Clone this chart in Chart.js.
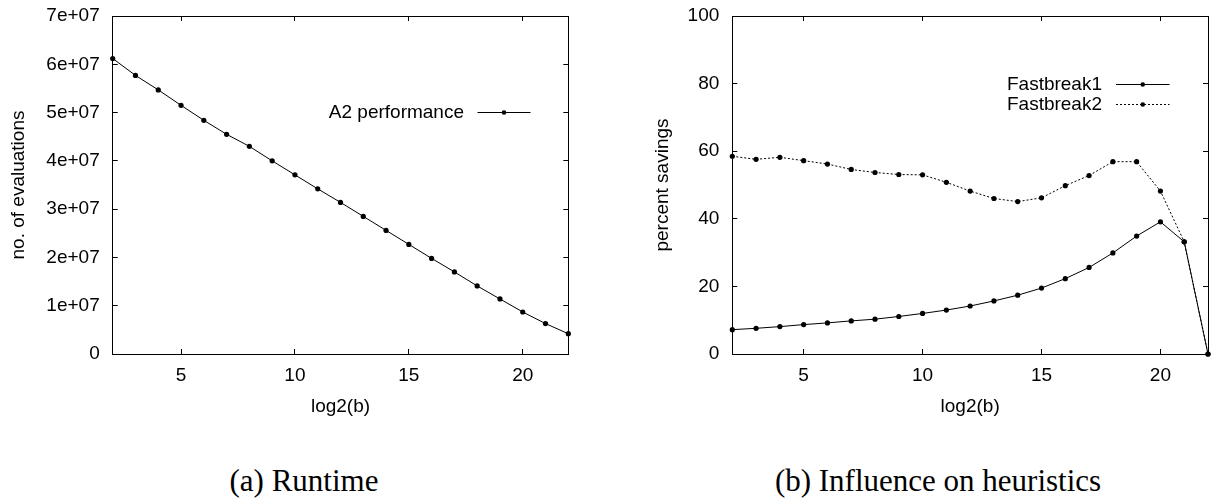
<!DOCTYPE html>
<html>
<head>
<meta charset="utf-8">
<script src="https://cdn.jsdelivr.net/npm/chart.js@4.4.1/dist/chart.umd.min.js"></script>
<style>
body { margin: 0; background: #fff; width: 1212px; height: 504px; position: relative; overflow: hidden; }
canvas { position: absolute; top: 0; }
#runtimeChart { left: 0; }
#heuristicsChart { left: 620px; }
.caption { position: absolute; top: 463px; width: 400px; font-family: "Liberation Serif", "Times New Roman", serif; font-size: 31px; line-height: 36px; text-align: center; color: #000; }
</style>
</head>
<body>
<canvas id="runtimeChart" width="580" height="420"></canvas>
<canvas id="heuristicsChart" width="592" height="420"></canvas>
<div class="caption" style="left:104px">(a) Runtime</div>
<div class="caption" style="left:738px">(b) Influence on heuristics</div>
<script>
// log2(b) on the x axis
const blockSizes = [2, 3, 4, 5, 6, 7, 8, 9, 10, 11, 12, 13, 14, 15, 16, 17, 18, 19, 20, 21, 22];
const xTicks = [5, 10, 15, 20];

// (a) runtime
const evaluations = [6.12e7, 5.77e7, 5.47e7, 5.15e7, 4.84e7, 4.55e7, 4.30e7, 4.00e7, 3.71e7, 3.42e7,
    3.14e7, 2.85e7, 2.56e7, 2.27e7, 1.98e7, 1.70e7, 1.41e7, 1.14e7, 0.87e7, 0.63e7, 0.42e7];
const evalTicks = [0, 1e7, 2e7, 3e7, 4e7, 5e7, 6e7, 7e7];
const evalTickLabels = ['0', '1e+07', '2e+07', '3e+07', '4e+07', '5e+07', '6e+07', '7e+07'];

// (b) heuristics
const fastbreak1 = [7.2, 7.6, 8.1, 8.7, 9.2, 9.8, 10.3, 11.1, 12.0, 13.0, 14.2, 15.7, 17.4, 19.5,
    22.3, 25.6, 29.9, 34.9, 39.1, 33.2, 0];
const fastbreak2 = [58.5, 57.6, 58.2, 57.2, 56.2, 54.6, 53.7, 53.1, 53.0, 50.8, 48.2, 46.0, 45.1, 46.2,
    49.8, 52.8, 56.9, 56.9, 48.2, 33.2, 0];
const savingTicks = [0, 20, 40, 60, 80, 100];

const fontFamily = '"Liberation Sans", Arial, Helvetica, sans-serif';
Chart.defaults.font.family = fontFamily;
Chart.defaults.font.size = 19;
Chart.defaults.color = '#000';

const toPoints = values => values.map((v, i) => ({ x: blockSizes[i], y: v }));

const tickMarks = { drawOnChartArea: false, drawTicks: true, tickLength: -5, color: '#000', lineWidth: 1 };
const frameBorder = { display: true, color: '#000', width: 1 };

// gnuplot style key: text right aligned, sample line with a point
const keyPlugin = {
    id: 'key',
    afterDatasetsDraw(chart, args, opts) {
        const ctx = chart.ctx;
        ctx.save();
        ctx.font = '19px ' + fontFamily;
        ctx.textAlign = 'right';
        ctx.textBaseline = 'middle';
        ctx.fillStyle = '#000';
        ctx.strokeStyle = '#000';
        ctx.lineWidth = 1;
        chart.data.datasets.forEach((ds, i) => {
            const y = opts.rows[i];
            ctx.fillText(ds.label, opts.textRight, y);
            ctx.setLineDash(ds.borderDash || []);
            ctx.beginPath();
            ctx.moveTo(opts.lineStart, y);
            ctx.lineTo(opts.lineEnd, y);
            ctx.stroke();
            ctx.setLineDash([]);
            ctx.beginPath();
            ctx.arc((opts.lineStart + opts.lineEnd) / 2, y, 2.3, 0, Math.PI * 2);
            ctx.fill();
        });
        ctx.restore();
    }
};

// the tick label padding would otherwise push the plot area down
const noEdgePadding = s => {
    s.paddingTop = 0;
    s.paddingBottom = 0;
    s.paddingLeft = 0;
    s.paddingRight = 0;
};

function buildScales(yMax, yTicks, yFormat, yTitle, yTitlePad, yWidth) {
    const setX = s => { s.ticks = xTicks.map(v => ({ value: v })); };
    const setY = s => { s.ticks = yTicks.map(v => ({ value: v })); };
    return {
        x: {
            type: 'linear', position: 'bottom', min: 2, max: 22,
            afterBuildTicks: setX,
            grid: tickMarks, border: frameBorder,
            ticks: { padding: 15, maxRotation: 0, callback: v => String(v) },
            title: { display: true, text: 'log2(b)', padding: { top: 0, bottom: 2 } },
            afterFit: s => { s.height = 66; noEdgePadding(s); }
        },
        x2: {
            type: 'linear', position: 'top', min: 2, max: 22,
            afterBuildTicks: setX,
            grid: tickMarks, border: frameBorder,
            ticks: { display: false },
            afterFit: s => { s.height = 0; noEdgePadding(s); }
        },
        y: {
            type: 'linear', position: 'left', min: 0, max: yMax,
            afterBuildTicks: setY,
            grid: tickMarks, border: frameBorder,
            ticks: { padding: 18, callback: yFormat },
            title: { display: true, text: yTitle, padding: { top: yTitlePad, bottom: 0 } },
            afterFit: s => { s.width = yWidth; noEdgePadding(s); }
        },
        y2: {
            type: 'linear', position: 'right', min: 0, max: yMax,
            afterBuildTicks: setY,
            grid: tickMarks, border: frameBorder,
            ticks: { display: false },
            afterFit: s => { s.width = 0; noEdgePadding(s); }
        }
    };
}

const lineStyle = {
    borderColor: '#000',
    borderWidth: 1,
    pointRadius: 2.6,
    pointBackgroundColor: '#000',
    pointBorderWidth: 0,
    tension: 0,
    clip: false
};

new Chart(document.getElementById('runtimeChart'), {
    type: 'line',
    data: {
        datasets: [{
            label: 'A2 performance',
            data: toPoints(evaluations),
            ...lineStyle
        }]
    },
    options: {
        responsive: false,
        animation: false,
        devicePixelRatio: 1,
        layout: { padding: { top: 16, right: 11.7, bottom: 0, left: 0 } },
        scales: buildScales(7e7, evalTicks, v => evalTickLabels[evalTicks.indexOf(v)], 'no. of evaluations', 7.6, 112.7),
        plugins: {
            legend: { display: false },
            tooltip: { enabled: false },
            key: { rows: [112.5], textRight: 464, lineStart: 477.5, lineEnd: 530.5 }
        }
    },
    plugins: [keyPlugin]
});

new Chart(document.getElementById('heuristicsChart'), {
    type: 'line',
    data: {
        datasets: [{
            label: 'Fastbreak1',
            data: toPoints(fastbreak1),
            ...lineStyle
        }, {
            label: 'Fastbreak2',
            data: toPoints(fastbreak2),
            ...lineStyle,
            borderDash: [2, 2]
        }]
    },
    options: {
        responsive: false,
        animation: false,
        devicePixelRatio: 1,
        layout: { padding: { top: 16, right: 1.5, bottom: 0, left: 0 } },
        scales: buildScales(100, savingTicks, v => String(v), 'percent savings', 31, 112.3),
        plugins: {
            legend: { display: false },
            tooltip: { enabled: false },
            key: { rows: [84.5, 104.5], textRight: 482, lineStart: 496, lineEnd: 549.5 }
        }
    },
    plugins: [keyPlugin]
});
</script>
</body>
</html>
